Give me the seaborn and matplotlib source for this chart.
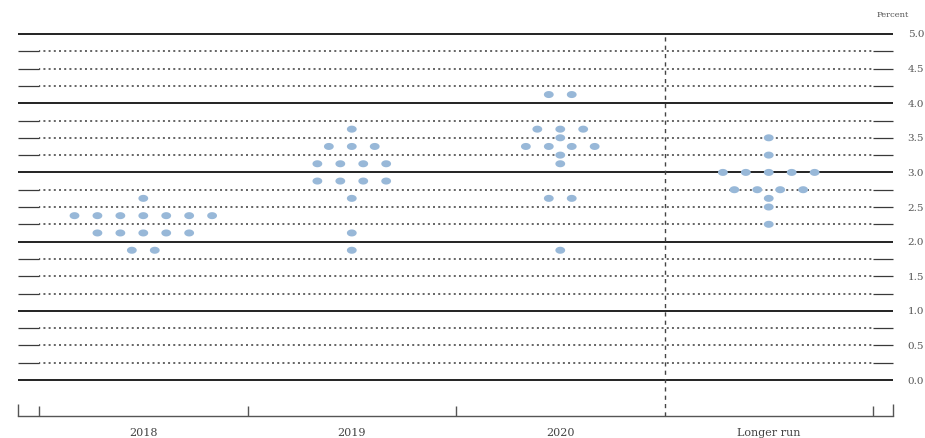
import numpy as np
import pandas as pd
import matplotlib
matplotlib.use("Agg")
import matplotlib.pyplot as plt
import seaborn as sns

# ---- data ----
periods = ["2018", "2019", "2020", "Longer run"]
rates_2018 = [2.625, 2.375, 2.375, 2.375, 2.375, 2.375, 2.375, 2.375,
              2.125, 2.125, 2.125, 2.125, 2.125, 1.875, 1.875]
rates_2019 = [3.625, 3.375, 3.375, 3.375, 3.125, 3.125, 3.125, 3.125,
              2.875, 2.875, 2.875, 2.875, 2.625, 2.125, 1.875]
rates_2020 = [4.125, 4.125, 3.625, 3.625, 3.625, 3.5, 3.375, 3.375, 3.375, 3.375,
              3.25, 3.125, 2.625, 2.625, 1.875]
rates_lr = [3.5, 3.25, 3.0, 3.0, 3.0, 3.0, 3.0, 2.75, 2.75, 2.75, 2.75,
            2.625, 2.5, 2.25]
y_ticks = [0.0, 0.5, 1.0, 1.5, 2.0, 2.5, 3.0, 3.5, 4.0, 4.5, 5.0]

# ---- build dot layout: dots with equal value sit side by side, centred ----
spacing = 0.110
rows = []
for i, (name, vals) in enumerate(zip(periods, [rates_2018, rates_2019, rates_2020, rates_lr])):
    s = pd.Series(vals)
    for v, n in s.value_counts(sort=False).items():
        for k in range(n):
            rows.append({"period": name, "xpos": i + (k - (n - 1) / 2) * spacing, "rate": v})
df = pd.DataFrame(rows)

sns.set_style("white")
plt.rcParams["font.family"] = ["DejaVu Serif"]

W, H = 925, 438
fig = plt.figure(figsize=(W / 100, H / 100), dpi=100)
ax = fig.add_axes([18 / W, 1 - 416 / H, (893 - 18) / W, (416 - 34) / H])
xmin, xmax = -0.601, 3.596
ymin, ymax = -0.52, 5.0
ax.set_xlim(xmin, xmax)
ax.set_ylim(ymin, ymax)

# horizontal reference lines
grid_vals = np.arange(0, 5.01, 0.25)
for g in grid_vals:
    if abs(g - round(g)) < 1e-9:
        ax.hlines(g, xmin, xmax, color="#222222", lw=1.4, zorder=1, clip_on=False)
    else:
        ax.hlines(g, -0.5, 3.5, color="#3a3a3a", lw=1.1,
                  linestyle=(0.5, (1.3, 2.1)), zorder=1, clip_on=False)
        ax.hlines(g, xmin, -0.5, color="#3a3a3a", lw=0.9, zorder=1, clip_on=False)
        ax.hlines(g, 3.5, xmax, color="#3a3a3a", lw=0.9, zorder=1, clip_on=False)

# dashed separator before longer run
ax.vlines(2.5, ymin, 5.0, color="#444444", lw=1.0, linestyle=(0, (3, 3)), zorder=1, clip_on=False)

# dots
theta = np.linspace(0, 2 * np.pi, 40)
ell = np.column_stack([1.4 * np.cos(theta), np.sin(theta)])
sns.scatterplot(data=df, x="xpos", y="rate", ax=ax, marker=ell, s=50,
                color="#98b8d8", edgecolor="none", linewidth=0, zorder=3, legend=False)

# axes styling
for side in ["top", "left", "right"]:
    ax.spines[side].set_visible(False)
ax.spines["bottom"].set_color("#555555")
ax.spines["bottom"].set_linewidth(1.0)

ax.set_xticks(range(len(periods)))
ax.set_xticklabels(periods)
ax.set_xticks([-0.5, 0.5, 1.5, 3.5], minor=True)
ax.tick_params(axis="x", which="major", bottom=True, length=0, pad=9, labelsize=8, labelcolor="#444444")
ax.tick_params(axis="x", which="minor", bottom=True, direction="in", length=7, width=1.0, color="#555555")
ax.vlines([xmin, xmax], ymin, ymin + 12 / 69.2, color="#555555", lw=1.0, clip_on=False)

ax.yaxis.tick_right()
ax.set_yticks(y_ticks)
ax.set_yticklabels([f"{v:.1f}" for v in y_ticks])
ax.tick_params(axis="y", which="both", length=0, pad=10.5, labelsize=7.5, labelcolor="#555555")
ax.set_xlabel("")
ax.set_ylabel("")
ax.grid(False)

fig.text(893 / W, 1 - 15 / H, "Percent", ha="center", va="center", fontsize=6, color="#555555")

fig.savefig("out.png", dpi=100, facecolor="white")
